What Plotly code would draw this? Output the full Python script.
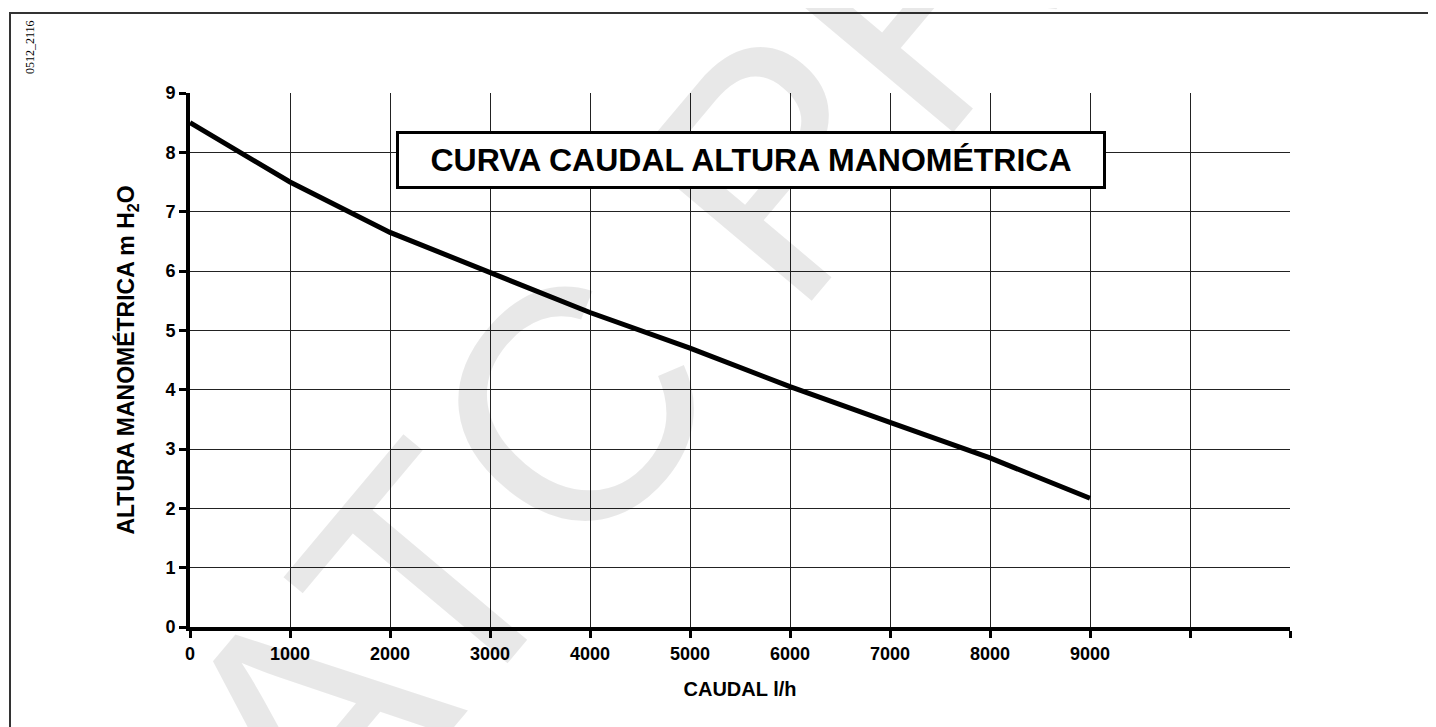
import plotly.graph_objects as go

# Data
caudal = [0, 1000, 2000, 3000, 4000, 5000, 6000, 7000, 8000, 9000]
altura = [8.5, 7.5, 6.65, 5.97, 5.3, 4.7, 4.05, 3.45, 2.85, 2.17]
x_ticks = [0, 1000, 2000, 3000, 4000, 5000, 6000, 7000, 8000, 9000, 10000, 11000]
x_ticklabels = ["0", "1000", "2000", "3000", "4000", "5000", "6000", "7000", "8000", "9000", " ", " "]
y_ticks = [0, 1, 2, 3, 4, 5, 6, 7, 8, 9]

FONT = "Liberation Sans, Arial, sans-serif"

# figure sized to compensate the 8px page margin
W, H = 1428, 719
ML, MR, MT, MB = 182, 146, 85, 100
PW, PH = W - ML - MR, H - MT - MB  # 1100 x 534


def px(xpage):
    return (xpage - 8 - ML) / PW


def py(ypage):
    return (MT + PH + 8 - ypage) / PH


fig = go.Figure()
fig.add_trace(go.Scatter(x=caudal, y=altura, mode="lines",
                         line=dict(color="black", width=5), hoverinfo="skip",
                         showlegend=False))

fig.update_layout(
    width=W, height=H,
    margin=dict(l=ML, r=MR, t=MT, b=MB),
    paper_bgcolor="white", plot_bgcolor="white",
    font=dict(family=FONT, color="black"),
    xaxis=dict(range=[0, 11000], tickvals=x_ticks, ticktext=x_ticklabels,
               showgrid=True, gridcolor="#222", gridwidth=1,
               showline=True, linecolor="black", linewidth=4,
               ticks="outside", ticklen=7, tickwidth=3, tickcolor="black",
               zeroline=False,
               tickfont=dict(size=18, family=FONT, weight="bold"),
               title=dict(text="CAUDAL l/h", standoff=20,
                          font=dict(size=20, family=FONT, weight="bold"))),
    yaxis=dict(range=[0, 9], tickvals=y_ticks,
               showgrid=True, gridcolor="#222", gridwidth=1,
               showline=True, linecolor="black", linewidth=4,
               ticks="outside", ticklen=7, tickwidth=3, tickcolor="black",
               zeroline=False,
               tickfont=dict(size=18, family=FONT, weight="bold"),
               title=dict(text="ALTURA MANOMÉTRICA m H<sub>2</sub>O", standoff=25,
                          font=dict(size=23, family=FONT, weight="bold"))),
)

# outer frame (left and top edges visible)
fig.add_shape(type="rect", xref="paper", yref="paper",
              x0=px(10), x1=px(1450), y0=py(740), y1=py(13),
              line=dict(color="#333", width=2), layer="below")

# watermark
fig.add_annotation(text="ATC PRO", xref="paper", yref="paper", x=px(703), y=py(253),
                   xanchor="center", yanchor="middle",
                   showarrow=False, textangle=-50,
                   font=dict(size=330, family=FONT, color="rgba(0,0,0,0.09)"))

# code label
fig.add_annotation(text="0512_2116", xref="paper", yref="paper",
                   x=px(30), y=py(47), xanchor="center", yanchor="middle",
                   showarrow=False, textangle=-90,
                   font=dict(size=12, family="Liberation Serif, Times New Roman, serif",
                             color="black"))

# title box
fig.add_annotation(text="<b>CURVA CAUDAL ALTURA MANOMÉTRICA</b>", x=5610, y=7.87,
                   xref="x", yref="y", showarrow=False,
                   font=dict(size=32, family=FONT, color="black"),
                   bgcolor="white", bordercolor="black", borderwidth=3,
                   borderpad=7, width=690, height=38)

fig.write_html("out.html")
